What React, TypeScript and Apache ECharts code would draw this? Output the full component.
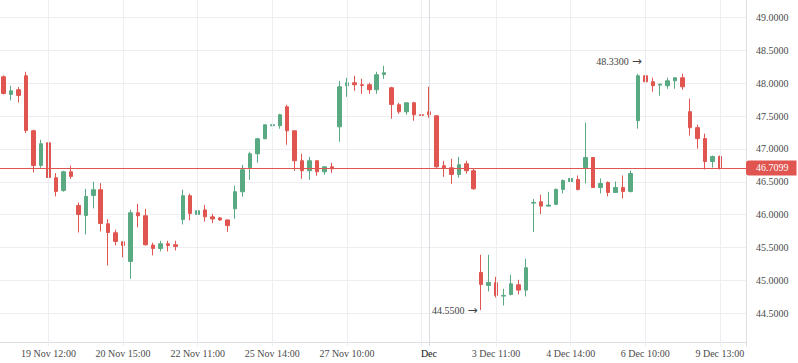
import React, { useEffect, useRef } from 'react';
import * as echarts from 'echarts';

const openP = [
  48.096, 47.828, 47.899, 48.111, 47.276, 46.749, 47.093, 46.561, 46.369, 46.652,
  46.141, 45.989, 46.293, 46.379, 45.862, 45.725, 45.589, 45.290, 46.029, 45.984,
  45.538, 45.487, 45.558, 45.543, 45.928, 46.288, 46.004, 46.073, 45.967, 45.951,
  45.921, 46.090, 46.349, 46.713, 46.926, 47.154, 47.352, 47.352, 47.640, 47.276,
  46.820, 46.668, 46.820, 46.652, 46.728, 47.336, 47.959, 48.005, 47.975, 47.975,
  47.899, 48.132, 47.929, 47.671, 47.564, 47.701, 47.519, 47.564, 47.504, 46.744,
  46.713, 46.612, 46.774, 46.668, 45.123, 44.925, 44.966, 44.763, 44.788, 44.935,
  44.854, 46.176, 46.197, 46.131, 46.157, 46.384, 46.505, 46.535, 46.717, 46.869,
  46.414, 46.490, 46.338, 46.414, 46.354, 47.429, 48.111, 48.020, 47.970, 47.960,
  48.035, 48.081, 47.566, 47.323, 47.157, 46.808, 46.884,
];
const closeP = [
  47.843, 47.883, 47.813, 47.281, 46.749, 47.078, 46.566, 46.354, 46.652, 46.582,
  46.004, 46.278, 46.379, 45.867, 45.730, 45.594, 45.533, 46.029, 45.984, 45.543,
  45.487, 45.558, 45.533, 45.518, 46.288, 46.019, 46.060, 45.967, 45.936, 45.921,
  45.834, 46.349, 46.683, 46.926, 47.154, 47.367, 47.367, 47.519, 47.276, 46.820,
  46.668, 46.820, 46.652, 46.728, 46.698, 47.944, 48.005, 47.975, 47.965, 47.899,
  48.127, 48.157, 47.676, 47.564, 47.701, 47.519, 47.509, 47.519, 46.728, 46.713,
  46.612, 46.759, 46.668, 46.394, 44.940, 44.971, 44.773, 44.773, 44.949, 44.854,
  45.194, 46.186, 46.131, 46.146, 46.384, 46.520, 46.551, 46.384, 46.869, 46.414,
  46.475, 46.338, 46.414, 46.354, 46.626, 48.111, 48.020, 47.960, 47.985, 48.035,
  48.081, 47.944, 47.323, 47.157, 46.808, 46.884, 46.7099,
];
const lowP = [
  47.828, 47.737, 47.706, 47.240, 46.642, 46.713, 46.551, 46.278, 46.349, 46.546,
  45.730, 45.700, 46.095, 45.746, 45.229, 45.533, 45.351, 45.026, 45.807, 45.533,
  45.381, 45.442, 45.442, 45.457, 45.852, 45.913, 45.807, 45.895, 45.871, 45.906,
  45.739, 45.938, 46.273, 46.531, 46.789, 47.154, 47.265, 47.306, 47.063, 46.668,
  46.546, 46.531, 46.592, 46.607, 46.637, 47.108, 47.792, 47.883, 47.838, 47.838,
  47.838, 48.066, 47.458, 47.534, 47.519, 47.428, 47.509, 47.473, 46.713, 46.576,
  46.470, 46.561, 46.622, 46.379, 44.550, 44.834, 44.743, 44.621, 44.773, 44.788,
  44.758, 45.736, 46.010, 46.121, 46.146, 46.323, 46.490, 46.369, 46.475, 46.414,
  46.323, 46.278, 46.338, 46.247, 46.338, 47.308, 47.975, 47.869, 47.808, 47.914,
  47.914, 47.899, 47.202, 47.005, 46.687, 46.717, 46.687,
];
const highP = [
  48.117, 47.959, 47.939, 48.172, 47.291, 47.139, 47.108, 46.632, 46.668, 46.744,
  46.186, 46.394, 46.500, 46.480, 45.933, 45.770, 45.589, 46.075, 46.166, 46.090,
  45.574, 45.604, 45.604, 45.604, 46.379, 46.318, 46.232, 46.149, 46.012, 45.967,
  45.921, 46.440, 46.759, 46.956, 47.169, 47.367, 47.428, 47.534, 47.670, 47.276,
  46.926, 46.880, 46.820, 46.728, 46.789, 48.035, 48.081, 48.111, 48.066, 48.005,
  48.172, 48.263, 47.944, 47.701, 47.701, 47.716, 47.519, 47.944, 47.504, 46.820,
  46.850, 46.880, 46.820, 46.698, 45.391, 45.391, 45.057, 44.874, 45.087, 45.011,
  45.330, 46.237, 46.303, 46.348, 46.399, 46.535, 46.596, 46.596, 47.399, 46.869,
  46.551, 46.505, 46.505, 46.596, 46.672, 48.141, 48.330, 48.081, 47.985, 48.081,
  48.081, 48.141, 47.763, 47.369, 47.232, 46.899, 46.899,
];

// bar index -> time-scale label
const tickLabels: [number, string][] = [
  [6, '19 Nov 12:00'],
  [16, '20 Nov 15:00'],
  [26, '22 Nov 11:00'],
  [36, '25 Nov 14:00'],
  [46, '27 Nov 10:00'],
  [57, 'Dec'],
  [66, '3 Dec 11:00'],
  [76, '4 Dec 14:00'],
  [86, '6 Dec 10:00'],
  [96, '9 Dec 13:00'],
];
const gridLineBars = [6, 16, 26, 36, 46, 56, 66, 76, 86, 96];
const monthBar = 57;
const emptySlots = 3;

const UP = '#59a982';
const DOWN = '#e0554f';
const FONT = 'Liberation Serif';

export default function App() {
  const ref = useRef<HTMLDivElement>(null);
  useEffect(() => {
    const chart = echarts.init(ref.current!, null, { renderer: 'svg' });
    const n = openP.length + emptySlots;
    const categories = Array.from({ length: n }, (_, i) => String(i));
    const labelMap = new Map<number, string>(tickLabels);
    const candles = openP.map((o, i) => [o, closeP[i], lowP[i], highP[i]]);
    const lastClose = closeP[closeP.length - 1];
    let hiIdx = 0;
    let loIdx = 0;
    highP.forEach((h, i) => { if (h > highP[hiIdx]) hiIdx = i; });
    lowP.forEach((l, i) => { if (l < lowP[loIdx]) loIdx = i; });

    const arrowRich = {
      t: { fontSize: 10, fontFamily: FONT, color: '#444' },
      a: { fontSize: 12, fontFamily: 'DejaVu Sans', color: '#444', padding: [0, 0, 0, 3] },
    };

    const option: any = {
      animation: false,
      textStyle: { fontFamily: FONT },
      grid: {
        left: 0,
        right: 52,
        top: -15.6,
        bottom: 16.7,
        containLabel: false,
        outerBoundsMode: 'none',
      },
      xAxis: {
        type: 'category',
        data: categories,
        boundaryGap: true,
        offset: -4.3,
        axisLine: { show: true, lineStyle: { color: '#dcdfe3', width: 1 } },
        axisTick: { show: false },
        splitLine: { show: false },
        axisLabel: {
          interval: (idx: number) => labelMap.has(idx),
          margin: 6,
          fontSize: 10,
          fontFamily: FONT,
          color: '#4a4a4a',
          formatter: (v: string) => {
            const t = labelMap.get(Number(v));
            if (!t) return '';
            return t === 'Dec' ? '{m|Dec}' : t;
          },
          rich: { m: { color: '#111', fontSize: 10, fontFamily: FONT } },
        },
      },
      yAxis: {
        type: 'value',
        position: 'right',
        min: 44,
        max: 49.5,
        interval: 0.5,
        scale: true,
        axisLine: { show: true, lineStyle: { color: '#dcdfe3', width: 1 } },
        axisTick: { show: false },
        splitLine: { show: true, showMinLine: false, lineStyle: { color: '#eceef1', width: 1 } },
        axisLabel: {
          showMinLabel: false,
          showMaxLabel: false,
          margin: 10,
          fontSize: 10,
          fontFamily: FONT,
          color: '#4a4a4a',
          formatter: (v: number) => v.toFixed(4),
        },
      },
      series: [
        {
          type: 'line',
          data: [],
          z: 1,
          silent: true,
          markLine: {
            silent: true,
            symbol: ['none', 'none'],
            label: { show: false },
            lineStyle: { color: '#eceef1', width: 1, type: 'solid' },
            data: [
              ...gridLineBars.map((i) => ({ xAxis: i })),
              { xAxis: monthBar, lineStyle: { color: '#d9dce1', width: 1, type: 'solid' } },
            ],
          },
        },
        {
          type: 'candlestick',
          z: 2,
          data: candles,
          barWidth: 4,
          itemStyle: {
            color: UP,
            color0: DOWN,
            borderColor: UP,
            borderColor0: DOWN,
            borderWidth: 1,
          },
          markLine: {
            silent: true,
            symbol: ['none', 'none'],
            data: [
              {
                yAxis: lastClose,
                lineStyle: { color: DOWN, width: 1, type: 'solid' },
                label: {
                  show: true,
                  position: 'end',
                  distance: 0,
                  formatter: () => lastClose.toFixed(4),
                  color: '#fff',
                  backgroundColor: DOWN,
                  padding: [3, 8, 2, 10],
                  borderRadius: [3, 0, 0, 3],
                  fontSize: 10,
                  fontFamily: FONT,
                },
              },
            ],
          },
          markPoint: {
            silent: true,
            symbol: 'circle',
            symbolSize: 1,
            itemStyle: { color: 'rgba(0,0,0,0)' },
            label: {
              show: true,
              position: 'left',
              distance: 3,
              color: '#444',
              fontSize: 10,
              fontFamily: FONT,
              rich: arrowRich,
            },
            data: [
              {
                coord: [hiIdx, highP[hiIdx]],
                label: { formatter: () => '{t|' + highP[hiIdx].toFixed(4) + '}{a|\u2192}' },
              },
              {
                coord: [loIdx, lowP[loIdx]],
                label: { formatter: () => '{t|' + lowP[loIdx].toFixed(4) + '}{a|\u2192}' },
              },
            ],
          },
        },
      ],
    };
    chart.setOption(option);
    return () => chart.dispose();
  }, []);
  return (
    <div
      ref={ref}
      style={{ position: 'absolute', left: 0, top: 0, width: 798, height: 363 }}
    />
  );
}
